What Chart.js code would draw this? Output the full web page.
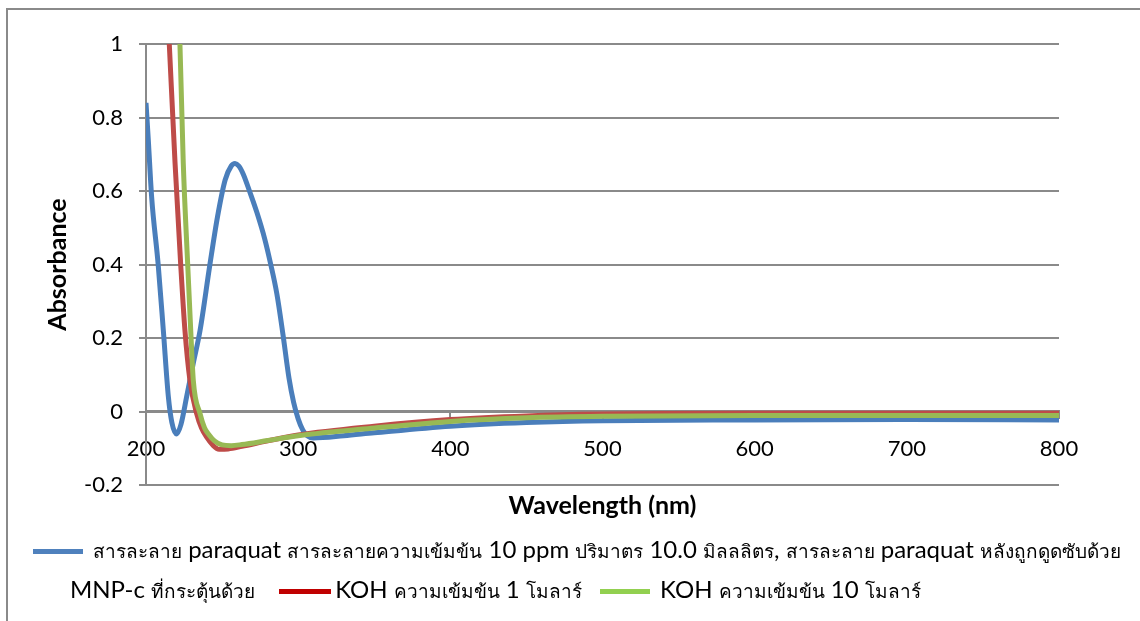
<!DOCTYPE html>
<html>
<head>
<meta charset="utf-8">
<script src="https://cdn.jsdelivr.net/npm/chart.js"></script>
<style>
  html, body { margin: 0; padding: 0; background: #fff; }
  #wrap { position: relative; width: 1140px; height: 621px; overflow: hidden; }
  #frame { position: absolute; left: 6px; top: 8px; width: 1200px; height: 700px; border: 2px solid #8a8a8a; }
  #chart { position: absolute; left: 0; top: 0; }
  #legend {
    position: absolute; left: 0; top: 529px; width: 1138px; box-sizing: border-box;
    padding-left: 70px; text-indent: -37px;
    font-family: Lato, sans-serif; font-size: 24px; line-height: 40px; color: #000;
  }
  #legend .th { font-size: 19px; line-height: 1; }
  #legend .mark { display: inline-block; width: 50px; height: 5px; vertical-align: middle; margin-right: 10px; text-indent: 0; }
  #legend .entry:nth-child(2) .mark { margin-left: 18px; margin-right: 4px; width: 52px; }
  #legend .entry:nth-child(3) .mark { margin-left: 12px; }
</style>
</head>
<body>
<div id="wrap">
  <div id="frame"></div>
  <canvas id="chart" width="1140" height="530"></canvas>
  <div id="legend"></div>
</div>
<script>
// series names as they appear in the legend
const seriesNames = [
  'สารละลาย paraquat  สารละลายความเข้มข้น 10 ppm ปริมาตร 10.0 มิลลลิตร, สารละลาย paraquat หลังถูกดูดซับด้วย MNP-c ที่กระตุ้นด้วย',
  'KOH ความเข้มข้น 1 โมลาร์',
  'KOH ความเข้มข้น 10 โมลาร์'
];
const lineColors = ['#4a7ebb', '#be4b48', '#98b954'];
const legendColors = ['#4f81bd', '#c00000', '#92d050'];

// paraquat solution
const wavelengthBlue = [200, 201.5, 203.7, 208, 211.4, 214.7, 217, 220, 223, 226.7, 231, 235.5, 242, 247, 252, 256, 258.5, 261, 264, 268, 273, 278, 282, 286, 290, 294, 297, 300, 303, 306, 310, 330, 350, 400, 450, 500, 600, 700, 800];
const absorbanceBlue = [0.84, 0.74, 0.584, 0.40, 0.22, 0.04, -0.03, -0.061, -0.035, 0.04, 0.13, 0.22, 0.40, 0.53, 0.63, 0.668, 0.675, 0.668, 0.645, 0.60, 0.54, 0.47, 0.40, 0.32, 0.21, 0.09, 0.025, -0.02, -0.05, -0.066, -0.072, -0.066, -0.058, -0.04, -0.03, -0.025, -0.023, -0.022, -0.023];

// KOH 1 M
const wavelengthRed = [210, 215.3, 219.1, 222.8, 225.6, 228.9, 233.3, 236.5, 239.9, 244, 248, 254, 263, 280, 300, 350, 400, 450, 500, 600, 700, 800];
const absorbanceRed = [1.45, 1.0, 0.675, 0.40, 0.22, 0.084, -0.006, -0.045, -0.07, -0.092, -0.103, -0.102, -0.095, -0.08, -0.064, -0.04, -0.022, -0.012, -0.007, -0.005, -0.005, -0.005];

// KOH 10 M
const wavelengthGreen = [218, 222.3, 224.5, 227.4, 229.4, 231.1, 235.5, 238.5, 241, 245, 250, 256, 263, 280, 300, 350, 400, 450, 500, 600, 700, 800];
const absorbanceGreen = [1.45, 1.0, 0.675, 0.40, 0.22, 0.084, -0.006, -0.045, -0.061, -0.08, -0.091, -0.093, -0.09, -0.079, -0.066, -0.045, -0.027, -0.017, -0.013, -0.011, -0.011, -0.011];

const xMin = 200, xMax = 800, xStep = 100;
const yMin = -0.2, yMax = 1, yStep = 0.2;

const gridColor = '#8a8a8a';

function points(xs, ys) {
  return xs.map((x, i) => ({ x: x, y: ys[i] }));
}

Chart.defaults.font.family = 'Lato';
Chart.defaults.color = '#000';

const ctx = document.getElementById('chart').getContext('2d');
const chart = new Chart(ctx, {
  type: 'line',
  data: {
    datasets: [
      { label: seriesNames[0], data: points(wavelengthBlue, absorbanceBlue), borderColor: lineColors[0], order: 3 },
      { label: seriesNames[1], data: points(wavelengthRed, absorbanceRed), borderColor: lineColors[1], order: 2 },
      { label: seriesNames[2], data: points(wavelengthGreen, absorbanceGreen), borderColor: lineColors[2], order: 1 }
    ]
  },
  options: {
    responsive: false,
    animation: false,
    events: [],
    layout: { padding: { left: 0, right: 81, top: 44, bottom: 0 } },
    plugins: { legend: { display: false }, tooltip: { enabled: false } },
    elements: {
      point: { radius: 0 },
      line: { borderWidth: 5, cubicInterpolationMode: 'monotone', fill: false }
    },
    datasets: { line: { clip: 0 } },
    scales: {
      x: {
        type: 'linear',
        position: { y: 0 },
        min: xMin, max: xMax,
        ticks: { stepSize: xStep, padding: 17, maxRotation: 0, font: { size: 22 } },
        grid: { drawOnChartArea: false, drawTicks: true, tickLength: 7, color: gridColor, lineWidth: 2 },
        border: { display: true, color: gridColor, width: 2 }
      },
      x2: {
        type: 'linear',
        position: 'bottom',
        min: xMin, max: xMax,
        ticks: { display: false },
        grid: { display: false },
        border: { display: false },
        title: { display: true, text: 'Wavelength (nm)', font: { size: 25, weight: 'bold' }, padding: { top: 0, bottom: 9 } },
        afterFit: s => { s.height = 45; }
      },
      y: {
        type: 'linear',
        min: yMin, max: yMax,
        ticks: { stepSize: yStep, padding: 16, font: { size: 22 }, callback: v => String(parseFloat(v.toFixed(1))) },
        grid: { color: gridColor, lineWidth: 2, tickLength: 7 },
        border: { color: gridColor, width: 2 },
        title: { display: true, text: 'Absorbance', font: { size: 25, weight: 'bold' }, padding: { top: 43, bottom: 0 } },
        afterFit: s => { s.width = 146; }
      }
    }
  }
});

// legend below the plot, Thai runs set a little smaller like the original
function labelHtml(text) {
  return text.replace(/[\u0E00-\u0E7F]+/g, m => '<span class="th">' + m + '</span>');
}
const legend = document.getElementById('legend');
legend.innerHTML = seriesNames.map((name, i) =>
  '<span class="entry"><span class="mark" style="background:' + legendColors[i] + '"></span>' + labelHtml(name) + '</span>'
).join(' ');
</script>
</body>
</html>
